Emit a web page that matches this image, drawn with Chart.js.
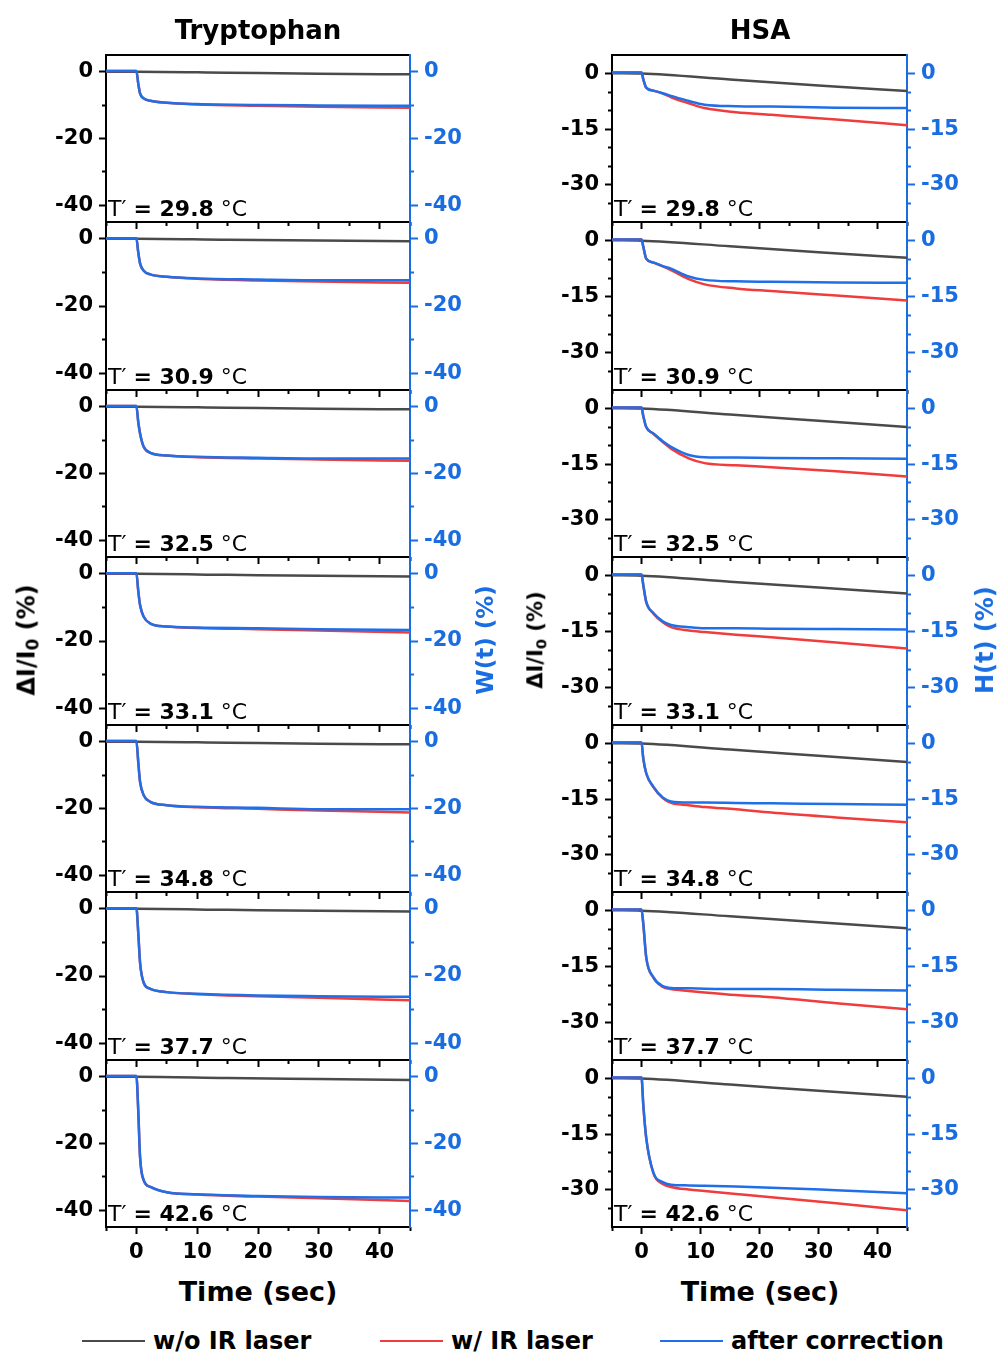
<!DOCTYPE html>
<html lang="en">
<head>
<meta charset="UTF-8">
<title>Tryptophan / HSA fluorescence</title>
<script src="https://cdn.jsdelivr.net/npm/chart.js"></script>
<style>
  body { margin: 0; background: #fff; font-family: 'DejaVu Sans', sans-serif; }
  #page { position: relative; width: 1000px; height: 1354px; overflow: hidden; }
  canvas { position: absolute; }
  .txt { position: absolute; white-space: nowrap; color: #000; line-height: 1; }
  .title { font-size: 26px; font-weight: bold; transform: translate(-50%, -50%); }
  .ytitle { font-weight: bold; transform: translate(-50%, -50%) rotate(-90deg); }
  .ytitle sub { font-size: 70%; vertical-align: -0.25em; }
  .temp { font-size: 22px; line-height: 24px; }
  .temp b { font-weight: bold; }
  .leg { font-size: 24px; font-weight: bold; transform: translateY(-50%); }
  .legline { position: absolute; height: 2px; }
</style>
</head>
<body>
<div id="page"></div>
<script>
// time axes (sec)
const timeTrp = [-5, 0, 0.3, 0.6, 1.2, 2.3, 5, 10, 20, 30, 45];
const timeHsa = [-5, 0, 0.3, 0.8, 2, 3.6, 5, 8, 10.7, 16, 22, 33, 45];
const timeRef = [-5, 0, 15, 30, 45];
const temps = ['29.8', '30.9', '32.5', '33.1', '34.8', '37.7', '42.6'];

// tick values
const xTicks = [0, 10, 20, 30, 40];
const xMinor = [-5, 5, 15, 25, 35, 45];
const trpTicks = [0, -20, -40];
const trpMinor = [-10, -30];
const hsaTicks = [0, -15, -30];
const hsaMinor = [-5, -10, -20, -25, -35];

// Tryptophan, w/o IR laser (at timeRef)
const trpNoLaser = [
  [0, 0, -0.3, -0.6, -0.8],
  [0, 0, -0.3, -0.5, -0.7],
  [0, 0, -0.3, -0.6, -0.8],
  [0, 0, -0.3, -0.6, -0.8],
  [0, 0, -0.3, -0.6, -0.8],
  [0, 0, -0.3, -0.6, -0.8],
  [0, 0, -0.4, -0.7, -1.0]
];
// Tryptophan, w/ IR laser (at timeTrp)
const trpLaser = [
  [0.2, 0.2, -3.5, -6.5, -8.0, -8.7, -9.3, -9.8, -10.2, -10.5, -10.8],
  [0.2, 0.2, -4.0, -7.3, -9.5, -10.6, -11.3, -11.9, -12.4, -12.7, -13.1],
  [0.2, 0.2, -4.5, -8.0, -12.0, -13.8, -14.6, -15.1, -15.5, -15.8, -16.2],
  [0.2, 0.2, -5.0, -9.3, -12.8, -14.8, -15.7, -16.1, -16.5, -16.9, -17.5],
  [0.2, 0.2, -6.0, -12.0, -16.0, -18.0, -19.0, -19.6, -20.1, -20.6, -21.2],
  [0.2, 0.2, -7.0, -16.0, -22.0, -23.8, -24.8, -25.4, -26.0, -26.5, -27.2],
  [0.2, 0.2, -10.0, -24.0, -31.0, -33.0, -34.6, -35.3, -35.9, -36.4, -37.2]
];
// Tryptophan, after correction W(t) (at timeTrp)
const trpCorrected = [
  [0.2, 0.2, -3.5, -6.5, -8.0, -8.7, -9.3, -9.7, -10.0, -10.1, -10.2],
  [0.2, 0.2, -4.0, -7.3, -9.5, -10.6, -11.3, -11.8, -12.1, -12.3, -12.3],
  [0.2, 0.2, -4.5, -8.0, -12.0, -13.8, -14.6, -15.0, -15.3, -15.5, -15.5],
  [0.2, 0.2, -5.0, -9.3, -12.8, -14.8, -15.7, -16.0, -16.2, -16.5, -16.7],
  [0.2, 0.2, -6.0, -12.0, -16.0, -18.0, -19.0, -19.5, -19.8, -20.2, -20.2],
  [0.2, 0.2, -7.0, -16.0, -22.0, -23.8, -24.8, -25.3, -25.8, -26.0, -26.2],
  [0.2, 0.2, -10.0, -24.0, -31.0, -33.0, -34.6, -35.2, -35.7, -36.0, -36.2]
];

// HSA, w/o IR laser (at timeRef)
const hsaNoLaser = [
  [0.1, 0, -1.6, -3.2, -4.7],
  [0.1, 0, -1.5, -3.1, -4.6],
  [0.1, 0, -1.6, -3.3, -5.0],
  [0.1, 0, -1.6, -3.2, -4.8],
  [0.1, 0, -1.6, -3.3, -5.0],
  [0.1, 0, -1.5, -3.1, -4.7],
  [0.1, 0, -1.6, -3.3, -4.9]
];
// HSA, w/ IR laser (at timeHsa)
const hsaLaser = [
  [0.3, 0.3, -1.5, -3.8, -4.6, -5.4, -6.4, -8.0, -9.3, -10.4, -11.1, -12.4, -13.9],
  [0.3, 0.3, -1.6, -4.8, -5.9, -6.9, -7.9, -10.3, -11.7, -12.8, -13.5, -14.7, -16.0],
  [0.3, 0.3, -2.0, -5.0, -6.8, -9.0, -10.8, -13.4, -14.7, -15.3, -15.8, -16.9, -18.3],
  [0.3, 0.3, -2.5, -7.0, -10.1, -12.5, -13.8, -14.7, -15.1, -15.8, -16.5, -17.9, -19.5],
  [0.3, 0.3, -4.0, -8.0, -11.7, -14.7, -16.0, -16.6, -17.1, -17.7, -18.6, -19.9, -21.2],
  [0.3, 0.3, -3.5, -12.5, -17.9, -20.4, -21.0, -21.5, -21.9, -22.6, -23.2, -24.8, -26.4],
  [0.3, 0.3, -7.0, -16.0, -25.4, -28.4, -29.2, -29.9, -30.3, -31.1, -32.0, -33.6, -35.5]
];
// HSA, after correction H(t) (at timeHsa)
const hsaCorrected = [
  [0.3, 0.3, -1.5, -3.8, -4.6, -5.3, -6.0, -7.4, -8.4, -8.8, -8.9, -9.2, -9.3],
  [0.3, 0.3, -1.6, -4.8, -5.8, -6.8, -7.5, -9.6, -10.5, -10.9, -11.0, -11.2, -11.3],
  [0.3, 0.3, -2.0, -5.0, -6.7, -8.8, -10.3, -12.5, -13.1, -13.2, -13.3, -13.4, -13.5],
  [0.3, 0.3, -2.5, -7.0, -10.0, -12.2, -13.2, -13.8, -14.1, -14.1, -14.2, -14.3, -14.4],
  [0.3, 0.3, -4.0, -8.0, -11.6, -14.5, -15.6, -15.9, -15.9, -16.0, -16.1, -16.3, -16.5],
  [0.3, 0.3, -3.5, -12.5, -17.8, -20.2, -20.7, -20.8, -20.9, -21.0, -21.0, -21.2, -21.4],
  [0.3, 0.3, -7.0, -16.0, -25.3, -27.9, -28.6, -28.8, -28.9, -29.1, -29.4, -30.1, -30.9]
];

const GRAY = '#4a4a4a';
const RED = '#f03c3c';
const BLUE = '#1f6fe8';
const AXBLUE = '#1a6de0';
const FONT = 'DejaVu Sans';

const page = document.getElementById('page');

const columns = [
  {
    left: 40, width: 430, padL: 66, padR: 60, yMin: -45, yMax: 5,
    major: trpTicks, minor: trpMinor, time: timeTrp,
    noLaser: trpNoLaser, laser: trpLaser, corrected: trpCorrected
  },
  {
    left: 540, width: 460, padL: 72, padR: 93, yMin: -40, yMax: 5,
    major: hsaTicks, minor: hsaMinor, time: timeHsa,
    noLaser: hsaNoLaser, laser: hsaLaser, corrected: hsaCorrected
  }
];

const panelTop = i => Math.round(55 + i * 167.43);

// fixed axis box size, so every panel gets the same chart area
function fixSize(size) {
  return s => {
    if (s.isHorizontal()) s.height = size; else s.width = size;
    s.paddingTop = s.paddingBottom = s.paddingLeft = s.paddingRight = 0;
  };
}

// major axes sit outside (weight 1), minor-tick axes hug the frame (weight 0)
function axis(pos, min, max, values, len, color, showLabels, showBorder, size, weight) {
  return {
    type: 'linear', position: pos, min: min, max: max, weight: weight,
    afterBuildTicks: s => { s.ticks = values.map(v => ({ value: v })); },
    afterFit: fixSize(size),
    grid: { drawOnChartArea: false, drawTicks: len > 0, tickLength: len, tickWidth: 2, tickColor: color },
    border: { display: showBorder, color: color, width: 2 },
    ticks: {
      display: showLabels, color: color, padding: 6, autoSkip: false, maxRotation: 0,
      font: { family: FONT, size: 21, weight: 'bold' },
      callback: v => String(v)
    }
  };
}

function series(times, vals, color) {
  return {
    data: times.map((t, k) => ({ x: t, y: vals[k] })),
    borderColor: color, borderWidth: 2.5, pointRadius: 0,
    cubicInterpolationMode: 'monotone', fill: false
  };
}

function addText(html, cls, x, y, extra) {
  const d = document.createElement('div');
  d.className = 'txt ' + cls;
  d.innerHTML = html;
  d.style.left = x + 'px';
  d.style.top = y + 'px';
  if (extra) Object.assign(d.style, extra);
  page.appendChild(d);
  return d;
}

columns.forEach(col => {
  for (let i = 0; i < 7; i++) {
    const top = panelTop(i);
    const bottom = panelTop(i + 1);
    const last = i === 6;
    const padT = 12;
    const padB = last ? 44 : 12;
    const cv = document.createElement('canvas');
    cv.width = col.width;
    cv.height = bottom - top + padT + padB;
    cv.style.left = col.left + 'px';
    cv.style.top = (top - padT) + 'px';
    page.appendChild(cv);

    new Chart(cv, {
      type: 'line',
      data: {
        datasets: [
          series(col.time, col.corrected[i], BLUE),
          series(col.time, col.laser[i], RED),
          series(timeRef, col.noLaser[i], GRAY)
        ]
      },
      options: {
        responsive: false,
        animation: false,
        events: [],
        layout: { padding: 0 },
        plugins: { legend: { display: false }, tooltip: { enabled: false } },
        scales: {
          x: axis('bottom', -5, 45, xTicks, 7, '#000', last, true, padB, 1),
          xm: axis('bottom', -5, 45, xMinor, 4, '#000', false, false, 0, 0),
          xt: axis('top', -5, 45, [], 0, '#000', false, true, padT, 0),
          y: axis('left', col.yMin, col.yMax, col.major, 7, '#000', true, true, col.padL, 1),
          ym: axis('left', col.yMin, col.yMax, col.minor, 4, '#000', false, false, 0, 0),
          y2: axis('right', col.yMin, col.yMax, col.major, 8, AXBLUE, true, true, col.padR, 1),
          y2m: axis('right', col.yMin, col.yMax, col.minor, 4, AXBLUE, false, false, 0, 0)
        }
      }
    });

    addText('T\u2032 <b>= ' + temps[i] + '</b> \u00b0C', 'temp', col.left + col.padL + 2, bottom - 25);
  }
});

// column titles
addText('Tryptophan', 'title', 258, 30);
addText('HSA', 'title', 760, 30);

// axis titles
addText('\u0394I/I<sub>0</sub> (%)', 'ytitle', 28, 640, { fontSize: '24px' });
addText('W(t) (%)', 'ytitle', 485, 640, { fontSize: '23px', color: AXBLUE });
addText('\u0394I/I<sub>0</sub> (%)', 'ytitle', 537, 640, { fontSize: '21px' });
addText('H(t) (%)', 'ytitle', 985, 640, { fontSize: '24px', color: AXBLUE });
addText('Time (sec)', 'title', 258, 1291, { fontSize: '27px' });
addText('Time (sec)', 'title', 760, 1291, { fontSize: '27px' });

// legend
const legend = [
  { label: 'w/o IR laser', color: GRAY, x: 82 },
  { label: 'w/ IR laser', color: RED, x: 380 },
  { label: 'after correction', color: BLUE, x: 660 }
];
legend.forEach(l => {
  const ln = document.createElement('div');
  ln.className = 'legline';
  ln.style.left = l.x + 'px';
  ln.style.top = '1340px';
  ln.style.width = '63px';
  ln.style.background = l.color;
  page.appendChild(ln);
  addText(l.label, 'leg', l.x + 71, 1341);
});
</script>
</body>
</html>
